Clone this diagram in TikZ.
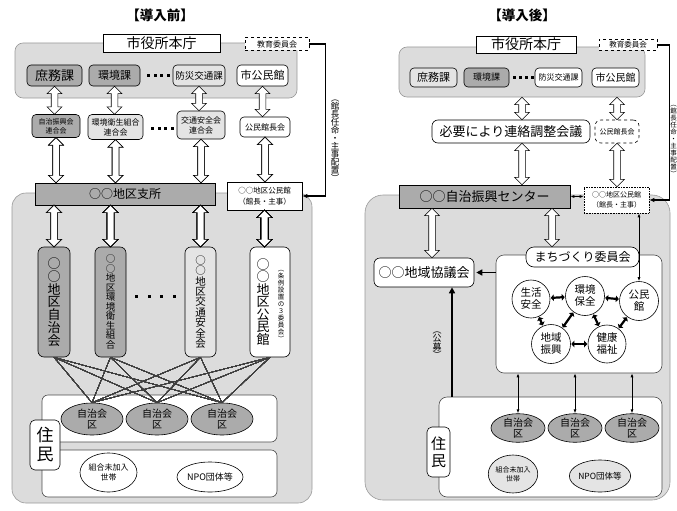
\documentclass[tikz,border=0pt]{standalone}
\usepackage{fontspec}
\setmainfont{Noto Sans CJK JP}
\usetikzlibrary{arrows.meta,shapes.geometric,shapes.arrows,calc}
\definecolor{panelgray}{HTML}{DCDCDC}
\definecolor{boxdark}{HTML}{ABABAB}
\definecolor{boxlight}{HTML}{E4E4E4}
\newcommand\fsz[2]{\fontsize{#1}{#2}\selectfont}
\newcommand\dotrow[3]{\foreach \i in {0,...,3} \fill (#1+\i*#3,#2-1.5) rectangle +(3,3);}
\newcommand\hollowarrow[2]{\path let \p1=#1, \p2=#2, \n1={veclen(\x2-\x1,\y2-\y1)} in
  node[harrow, minimum height=\n1] at ($(\p1)!0.5!(\p2)$) {};}
\tikzset{
  box/.style={draw, fill=white, line width=0.6pt, rounded corners=4pt, inner sep=0pt, align=center},
  darkbox/.style={box, fill=boxdark},
  panel/.style={draw=gray!80, fill=panelgray, line width=0.6pt, rounded corners=8pt, inner sep=0pt},
  sheet/.style={draw=black!70, fill=white, line width=0.6pt, rounded corners=6pt, inner sep=0pt},
  oval/.style={ellipse, draw, line width=0.6pt, inner sep=0pt, align=center},
  ring/.style={circle, draw, fill=white, line width=0.6pt, inner sep=0pt, minimum size=39, align=center, font=\fsz{10.5}{12}},
  vtext/.style={align=center, inner sep=0pt},
  harrow/.style={double arrow, draw, fill=white, line width=0.6pt, rotate=90, inner xsep=0pt, inner ysep=3pt,
    double arrow head extend=4pt},
  link/.style={line width=0.4pt, black!75},
  elbow/.style={line width=1.3pt, -{Latex[length=5pt,width=4.5pt]}},
  blackarrow/.style={line width=1.6pt, -{Triangle[length=6pt,width=6pt]}},
  biarrow/.style={line width=2.2pt, {Triangle[length=3pt,width=6.5pt]}-{Triangle[length=3pt,width=6.5pt]}, shorten <=0.5pt, shorten >=0.5pt},
  pinarrow/.style={line width=0.8pt, {Latex[length=4pt,width=3pt]}-{Latex[length=4pt,width=3pt]}},
}
\begin{document}
\begin{tikzpicture}[x=1pt,y=-1pt]
\useasboundingbox (0,0) rectangle (677,511);
% before
\node[font=\bfseries\fsz{13.5}{15}] (titleL) at (160,15) {【導入前】};
\node[panel, minimum width=282, minimum height=55] (panelL) at (156,70.5) {};
\node[panel, rounded corners=14pt, minimum width=300, minimum height=310] (baseL) at (162,348) {};
\node[box, sharp corners, minimum width=117, minimum height=18, font=\fsz{14}{16}] (honchoL) at (161.5,43) {市役所本庁};
\node[box, sharp corners, dashed, minimum width=64, minimum height=13, font=\fsz{8}{9}] (kyoikuL) at (277,44) {教育委員会};
\node[darkbox, minimum width=55, minimum height=21, font=\fsz{13}{14}] (shomuL) at (54.5,75.5) {庶務課};
\node[darkbox, minimum width=51, minimum height=21, font=\fsz{11}{12}] (kankyoL) at (114.5,75.5) {環境課};
\dotrow{147}{75.5}{6.5}
\node[box, fill=boxlight, minimum width=52, minimum height=21, font=\fsz{9.5}{11}] (bosaiL) at (199,75.5) {防災交通課};
\node[box, minimum width=51, minimum height=21, font=\fsz{11}{12}] (shikominL) at (262.5,75.5) {市公民館};
\node[darkbox, minimum width=48, minimum height=23, font=\fsz{7}{9}] (jichirenL) at (56,126) {自治振興会\\連合会};
\node[box, fill=boxlight, minimum width=55, minimum height=25, font=\fsz{8}{10}] (eiseirenL) at (115.5,127) {環境衛生組合\\連合会};
\dotrow{151}{128}{6.5}
\node[box, fill=boxlight, minimum width=48, minimum height=28, font=\fsz{8}{10}] (kotsurenL) at (201,125) {交通安全会\\連合会};
\node[box, minimum width=50, minimum height=20, font=\fsz{8}{9}] (kanchoL) at (265,127) {公民館長会};
\node[darkbox, sharp corners, minimum width=180, minimum height=22, font=\fsz{12}{13}] (shishoL) at (125,194) {○○地区支所};
\node[box, sharp corners, minimum width=75, minimum height=28, font=\fsz{7.5}{11}] (chikukominL) at (264.5,196) {○○地区公民館\\（館長・主事）};
\node[darkbox, rounded corners=6pt, minimum width=32, minimum height=110, font=\fsz{13}{12.8}] (jichikaiL) at (54,302) {○\\○\\地\\区\\自\\治\\会};
\node[darkbox, rounded corners=6pt, minimum width=31, minimum height=110, font=\fsz{9.5}{9.5}] (eiseiL) at (110.5,302) {○\\○\\地\\区\\環\\境\\衛\\生\\組\\合};
\dotrow{135}{296}{12.5}
\node[box, fill=boxlight, rounded corners=6pt, minimum width=31, minimum height=110, font=\fsz{10.5}{10.4}] (kotsuL) at (200.5,302) {○\\○\\地\\区\\交\\通\\安\\全\\会};
\node[box, rounded corners=6pt, minimum width=40, minimum height=110] (kominL) at (270,302) {};
\node[vtext, font=\fsz{13}{12.5}] (kominLtxt) at ([xshift=-7pt]kominL.center) {○\\○\\地\\区\\公\\民\\館};
\node[vtext, font=\fsz{6.5}{7}] (iinkaiL) at ([xshift=11pt,yshift=-4pt]kominL.center) {︵\\条\\例\\設\\置\\の\\３\\委\\員\\会\\︶};
\node[sheet, minimum width=235, minimum height=47] (kuzoneL) at (159.5,418.5) {};
\node[sheet, minimum width=235, minimum height=47] (etczoneL) at (159.5,473.5) {};
\foreach \k/\x in {kuL1/92,kuL2/157,kuL3/222}
  \node[oval, fill=boxdark, minimum width=62, minimum height=32, font=\fsz{10}{11}] (\k) at (\x,419) {自治会\\区};
\node[box, rounded corners=5pt, minimum width=30, minimum height=50, font=\fsz{17}{19}] (juminL) at (45,445) {住\\民};
\node[oval, fill=white, minimum width=57, minimum height=39, font=\fsz{8}{10}] (kumiaiL) at (108.5,472.5) {組合未加入\\世帯};
\node[oval, fill=white, minimum width=66, minimum height=30, font=\fsz{9}{10}] (npoL) at (210,477) {NPO団体等};
\foreach \a/\b in {shomuL/jichirenL,kankyoL/eiseirenL,bosaiL/kotsurenL,shikominL/kanchoL}
  \hollowarrow{(\a.south)}{(\a.south |- \b.north)}
\foreach \a in {jichirenL,eiseirenL,kotsurenL}
  \hollowarrow{(\a.south)}{(\a.south |- shishoL.north)}
\hollowarrow{(kanchoL.south)}{(kanchoL.south |- chikukominL.north)}
\foreach \c in {jichikaiL,eiseiL,kotsuL}
  \hollowarrow{(\c.north |- shishoL.south)}{(\c.north)}
\hollowarrow{(chikukominL.south)}{(chikukominL.south |- kominL.north)}
\foreach \c in {jichikaiL,eiseiL,kotsuL,kominL}
  \foreach \k in {kuL1,kuL2,kuL3}
    \draw[link] (\c.south) -- (\k.north);
\draw[elbow] (kyoikuL.east) -- ++(16,0) |- (chikukominL.east);
\node[vtext, font=\fsz{8.5}{8}] (ninmeiL) at (335,141) {︵\\館\\長\\任\\命\\・\\主\\事\\配\\置\\︶};
% after
\node[font=\bfseries\fsz{13.5}{15}] (titleR) at (522,15) {【導入後】};
\node[panel, minimum width=246, minimum height=50] (panelR) at (522,72) {};
\node[panel, rounded corners=18pt, minimum width=305, minimum height=305] (baseR) at (517.5,347.5) {};
\node[box, sharp corners, minimum width=100, minimum height=17, font=\fsz{14}{16}] (honchoR) at (526,44.5) {市役所本庁};
\node[box, sharp corners, dashed, minimum width=58, minimum height=11, font=\fsz{7.5}{8}] (kyoikuR) at (628,45) {教育委員会};
\node[box, fill=boxlight, minimum width=47, minimum height=19, font=\fsz{11}{12}] (shomuR) at (433.5,77.5) {庶務課};
\node[darkbox, minimum width=45, minimum height=19, font=\fsz{9}{10}] (kankyoR) at (486.5,77.5) {環境課};
\dotrow{513}{77.5}{6}
\node[box, minimum width=47, minimum height=19, font=\fsz{8}{9}] (bosaiR) at (558.5,77.5) {防災交通課};
\node[box, minimum width=47, minimum height=19, font=\fsz{10}{11}] (shikominR) at (615.5,77.5) {市公民館};
\node[box, rounded corners=6pt, minimum width=158, minimum height=23, font=\fsz{13}{14}] (renrakuR) at (511,131.5) {必要により連絡調整会議};
\node[box, dashed, rounded corners=6pt, minimum width=44, minimum height=23, font=\fsz{7}{8}] (kanchoR) at (617,131.5) {公民館長会};
\node[darkbox, sharp corners, minimum width=171, minimum height=23, font=\fsz{13}{14}] (shinkoR) at (484.5,196.5) {○○自治振興センター};
\node[box, sharp corners, densely dotted, minimum width=65, minimum height=26, font=\fsz{7}{10}] (chikukominR) at (616.5,200) {○○地区公民館\\（館長・主事）};
\node[box, rounded corners=6pt, minimum width=100, minimum height=29, font=\fsz{13}{14}] (kyogikaiR) at (424,272.5) {○○地域協議会};
\node[sheet, rounded corners=8pt, minimum width=166, minimum height=118] (machiR) at (579,314) {};
\node[box, rounded corners=8pt, minimum width=113, minimum height=20, font=\fsz{12}{13}] (machiTag) at (582.5,257) {まちづくり委員会};
\node[ring, minimum size=38] (seikatsuC) at (531,299) {生活\\安全};
\node[ring] (kankyoC) at (585,296) {環境\\保全};
\node[ring] (kominC) at (639,301) {公民\\館};
\node[ring] (chiikiC) at (551,344) {地域\\振興};
\node[ring, minimum size=38] (kenkoC) at (607,344) {健康\\福祉};
\node[sheet, rounded corners=8pt, minimum width=223, minimum height=100] (juminzoneR) at (550.5,447) {};
\node[box, rounded corners=5pt, minimum width=23, minimum height=50, font=\fsz{15}{17}] (juminR) at (438.5,452) {住\\民};
\foreach \k/\x in {kuR1/518,kuR2/575,kuR3/632}
  \node[oval, fill=boxdark, minimum width=54, minimum height=28, font=\fsz{10}{11}] (\k) at (\x,428) {自治会\\区};
\node[oval, fill=boxlight, minimum width=48, minimum height=38, font=\fsz{7}{9}] (kumiaiR) at (513,474) {組合未加入\\世帯};
\node[oval, fill=boxlight, minimum width=54, minimum height=32, font=\fsz{8.5}{10}] (npoR) at (600,476) {NPO団体等};
\coordinate (railA) at (522,0);
\coordinate (railB) at (432,0);
\coordinate (railC) at (552,0);
\coordinate (railD) at (452,0);
\hollowarrow{(railA |- panelR.south)}{(railA |- renrakuR.north)}
\hollowarrow{(kanchoR.north |- panelR.south)}{(kanchoR.north)}
\hollowarrow{(railA |- renrakuR.south)}{(railA |- shinkoR.north)}
\hollowarrow{(kanchoR.south)}{(kanchoR.south |- chikukominR.north)}
\hollowarrow{(railB |- shinkoR.south)}{(railB |- kyogikaiR.north)}
\hollowarrow{(railC |- shinkoR.south)}{(railC |- machiTag.north)}
\draw[pinarrow] (shinkoR.east) -- (shinkoR.east -| chikukominR.west);
\draw[elbow] (kyoikuR.east) -- ++(12,0) |- (chikukominR.east);
\node[vtext, font=\fsz{6.5}{7}] (ninmeiR) at (673.5,141) {︵\\館\\長\\任\\命\\・\\主\\事\\配\\置\\︶};
\draw[blackarrow, shorten >=2pt] (machiR.west |- kyogikaiR.east) -- (kyogikaiR.east);
\draw[blackarrow] (railD |- juminzoneR.north) -- (railD |- kyogikaiR.south);
\node[vtext, font=\fsz{9}{8.5}] (koboR) at (437,345) {︵\\公\\募\\︶};
\draw[pinarrow] (kominC.north |- chikukominR.south) -- (kominC.north);
\foreach \k in {kuR1,kuR2,kuR3}
  \draw[pinarrow] (\k.north |- machiR.south) -- (\k.north);
\foreach \a/\b in {seikatsuC/kankyoC,kankyoC/kominC,seikatsuC/chiikiC,kankyoC/chiikiC,kankyoC/kenkoC,kominC/kenkoC,chiikiC/kenkoC}
  \draw[biarrow] (\a) -- (\b);
\end{tikzpicture}
\end{document}
